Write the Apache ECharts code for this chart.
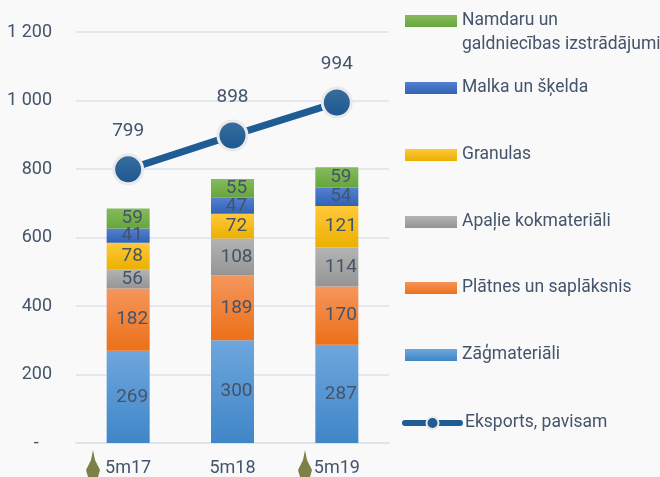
<!DOCTYPE html>
<html><head><meta charset="utf-8">
<style>html,body{margin:0;padding:0;background:#f9f9f9}#c{width:660px;height:477px}</style>
<script src="https://cdn.jsdelivr.net/npm/echarts@6/dist/echarts.min.js"></script>
</head><body><div id="c"></div>
<script>
const categories = ['5m17','5m18','5m19'];
const zagmateriali = [269,300,287];
const platnes = [182,189,170];
const apalie = [56,108,114];
const granulas = [78,72,121];
const malka = [41,47,54];
const namdaru = [59,55,59];
const eksports = [799,898,994];
const yTicks = {0:'-   ',200:'200',400:'400',600:'600',800:'800',1000:'1 000',1200:'1 200'};
const FONT = 'Roboto,"Liberation Sans",Arial,sans-serif';
const TXT = '#44546a';
const grad = (a,b)=>({type:'linear',x:0,y:0,x2:0,y2:1,colorStops:[{offset:0,color:a},{offset:1,color:b}]});
const stack = (name,data,a,b)=>({name,type:'bar',stack:'t',data,barWidth:43,
  itemStyle:{color:grad(a,b)},
  label:{show:true,position:'inside',offset:[4,0],color:TXT,fontFamily:FONT,fontSize:19}});
const names = ['Namdaru un galdniecības izstrādājumi','Malka un šķelda','Granulas','Apaļie kokmateriāli','Plātnes un saplāksnis','Zāģmateriāli','Eksports, pavisam'];
const tops = [12,79,146,213,279,346,414];
const legends = names.map((n,i)=>{
  const l = {
    data:[n],left:i===6?402:405,top:tops[i],
    itemWidth:i===6?55:52,itemHeight:i===6?15:12,itemGap:0,padding:0,
    selectedMode:false,
    textStyle:{color:TXT,fontFamily:FONT,fontSize:17.5}
  };
  if(i===6){
    l.lineStyle={width:6,cap:'round',color:'#1f5c93'};
    l.itemStyle={borderWidth:2,borderColor:'#e9e9e9',color:'#1f5c93'};
  } else { l.icon='rect'; }
  if(i===0) l.formatter=()=>'Namdaru un';
  return l;
});
const chart = echarts.init(document.getElementById('c'));
chart.setOption({
  backgroundColor:'#f9f9f9',animation:false,
  grid:{left:76,right:271,top:32,bottom:30},
  legend:legends,
  xAxis:{type:'category',data:categories,
    axisLine:{lineStyle:{color:'#dfe4ea',width:2}},axisTick:{show:false},
    axisLabel:{color:TXT,fontFamily:FONT,fontSize:18,margin:16}},
  yAxis:{type:'value',min:0,max:1200,interval:200,
    axisLine:{show:false},axisTick:{show:false},
    splitLine:{lineStyle:{color:'#e4e8ee',width:2}},
    axisLabel:{color:TXT,fontFamily:FONT,fontSize:18,margin:24,formatter:v=>yTicks[v]}},
  series:[
    stack(names[5],zagmateriali,'#6ea6dd','#3f86c8'),
    stack(names[4],platnes,'#f5965c','#ec7018'),
    stack(names[3],apalie,'#b3b3b3','#959595'),
    stack(names[2],granulas,'#ffc93a','#ebb000'),
    stack(names[1],malka,'#5580cf','#2f62b6'),
    stack(names[0],namdaru,'#86bb5c','#66a53c'),
    {name:names[6],type:'line',data:eksports,z:5,
     symbol:'circle',symbolSize:29,
     lineStyle:{color:'#1f5c93',width:7},
     itemStyle:{color:grad('#3a6f9f','#1a568f'),borderColor:'#e9e9e9',borderWidth:3},
     label:{show:true,position:'top',distance:13,color:TXT,fontFamily:FONT,fontSize:19}}
  ],
  graphic:[
    {type:'text',left:462,top:36,style:{text:'galdniecības izstrādājumi',fill:TXT,font:'17.5px '+FONT}},
    {type:'polygon',silent:true,shape:{points:[[93,450],[95,460],[100,470],[98,477],[88,477],[86,470],[91,460]]},style:{fill:'#7d8047'}},
    {type:'polygon',silent:true,shape:{points:[[305,450],[307,460],[312,470],[310,477],[300,477],[298,470],[303,460]]},style:{fill:'#7d8047'}}
  ]
});
</script></body></html>
